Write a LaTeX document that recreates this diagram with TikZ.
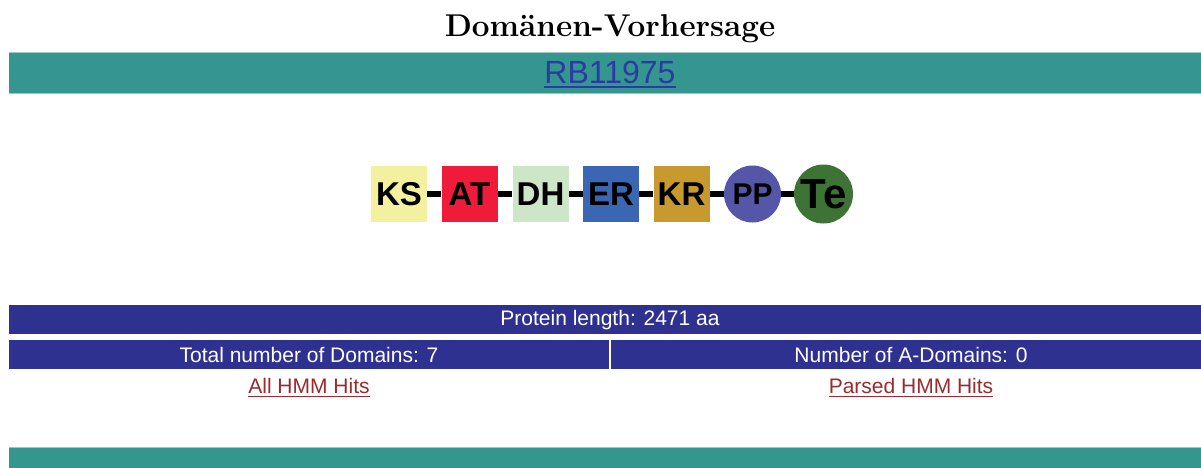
\documentclass[tikz,border=0pt]{standalone}
\usepackage{fontspec}
\newfontfamily\arial{Liberation Sans}
\definecolor{teal}{HTML}{35958F}
\definecolor{tealedge}{HTML}{9CC9C6}
\definecolor{navy}{HTML}{2E3190}
\definecolor{linkblue}{HTML}{2B3BA4}
\definecolor{linkred}{HTML}{9A2A2E}
\definecolor{ksc}{HTML}{F3F19F}
\definecolor{atc}{HTML}{EE1C3A}
\definecolor{dhc}{HTML}{CDE6C8}
\definecolor{erc}{HTML}{3A66B4}
\definecolor{krc}{HTML}{C8992E}
\definecolor{ppc}{HTML}{5656A8}
\definecolor{tec}{HTML}{3E7336}
\tikzset{
  infotext/.style={text=white, font=\arial\fontsize{21}{25}\selectfont, inner sep=0pt},
  linktext/.style={font=\arial\fontsize{21}{25}\selectfont, inner sep=0pt},
  dombox/.style={rectangle, minimum size=56pt, inner sep=0pt, font=\arial\bfseries\fontsize{33}{37}\selectfont},
  domcirc/.style={circle, minimum size=58pt, inner sep=0pt, font=\arial\bfseries\fontsize{31}{35}\selectfont},
  link/.style={line width=5.5pt, black},
  uline/.style={line width=1.3pt}
}
\begin{document}
\begin{tikzpicture}[x=1pt, y=-1pt]
\useasboundingbox (0,0) rectangle (1201,468);
% title
\node[font=\bfseries\fontsize{31.5}{36}\selectfont] (title) at (610,29) {Domänen-Vorhersage};
% header bar with accession link
\fill[teal] (9,53) rectangle (1201,94);
\draw[tealedge, line width=1pt] (9,53) -- (1201,53) (9,94) -- (1201,94);
\node[linktext, text=linkblue, font=\arial\fontsize{32}{36}\selectfont] (acc) at (610,72) {RB11975};
\draw[uline, linkblue] ([yshift=-4pt]acc.base west) -- ([yshift=-4pt]acc.base east);
% domain architecture
\node[dombox, fill=ksc] (ks) at (399,194) {KS};
\node[dombox, fill=atc] (at) at (469.5,194) {AT};
\node[dombox, fill=dhc] (dh) at (540.5,194) {DH};
\node[dombox, fill=erc] (er) at (611,194) {ER};
\node[dombox, fill=krc] (kr) at (681.5,194) {KR};
\node[domcirc, fill=ppc, minimum size=57pt] (pp) at (752.5,194) {\raisebox{-3pt}{\fontsize{30}{34}\selectfont PP}};
\node[domcirc, fill=tec, minimum size=59pt] (te) at (823.5,194) {\fontsize{42}{46}\selectfont Te};
\draw[link] (ks) -- (at);
\draw[link] (at) -- (dh);
\draw[link] (dh) -- (er);
\draw[link] (er) -- (kr);
\draw[link] (kr) -- (pp);
\draw[link] (pp) -- (te);
% protein length row
\fill[navy] (9,305) rectangle (1201,334);
\node[infotext] (len) at (610,320) {Protein length: 2471 aa};
% domain count row
\fill[navy] (9,340) rectangle (608.5,369);
\fill[navy] (610.5,340) rectangle (1201,369);
\node[infotext] (total) at (309,355) {Total number of Domains: 7};
\node[infotext] (adom) at (911,355) {Number of A-Domains: 0};
% hit links
\node[linktext, text=linkred] (all) at (309,386) {All HMM Hits};
\draw[uline, linkred] ([yshift=-3pt]all.base west) -- ([yshift=-3pt]all.base east);
\node[linktext, text=linkred] (parsed) at (911,386) {Parsed HMM Hits};
\draw[uline, linkred] ([yshift=-3pt]parsed.base west) -- ([yshift=-3pt]parsed.base east);
% footer bar
\fill[teal] (9,447) rectangle (1201,468);
\draw[tealedge, line width=1pt] (9,447) -- (1201,447);
\end{tikzpicture}
\end{document}
